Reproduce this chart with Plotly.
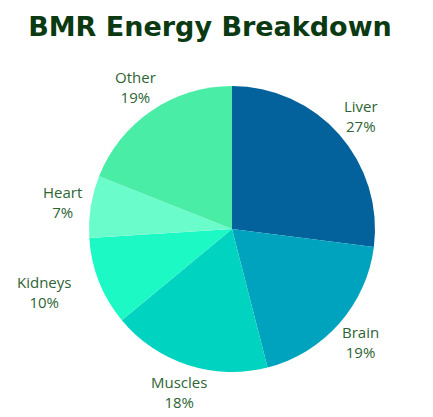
import math
import plotly.graph_objects as go

labels = ["Liver", "Brain", "Muscles", "Kidneys", "Heart", "Other"]
values = [27, 19, 18, 10, 7, 19]
colors = ["#03629C", "#00A3BE", "#00D3C0", "#1DF9C5", "#6BFCCC", "#4AEDA6"]
label_xshift = {"Kidneys": -28}

W, H = 433, 417
OFF = 8  # page body margin
cx, cy, R = 232 - OFF, 229 - OFF, 143
dom_x = [(cx - R) / W, (cx + R) / W]
dom_y = [1 - (cy + R) / H, 1 - (cy - R) / H]

fig = go.Figure(go.Pie(
    labels=labels, values=values, sort=False, direction="clockwise", rotation=0,
    marker=dict(colors=colors, line=dict(width=0)),
    textinfo="none", hoverinfo="label+percent", showlegend=False,
    domain=dict(x=dom_x, y=dom_y),
))

total = sum(values)
cum = 0
rl = 1.2
for lab, v in zip(labels, values):
    mid = (cum + v / 2) / total * 2 * math.pi
    cum += v
    px = cx + rl * R * math.sin(mid)
    py = cy - rl * R * math.cos(mid)
    fig.add_annotation(
        x=px / W, y=1 - py / H, xref="paper", yref="paper",
        xanchor="center", yanchor="middle",
        text=f"{lab}<br>{round(v / total * 100)}%", showarrow=False,
        xshift=label_xshift.get(lab, 0),
        font=dict(family="Open Sans", size=15, color="#2E6434"),
        align="center",
    )

fig.update_layout(
    width=W, height=H, margin=dict(l=0, r=0, t=0, b=0),
    paper_bgcolor="white", plot_bgcolor="white",
    title=dict(text="<b>BMR Energy Breakdown</b>", x=(210 - OFF) / W, xanchor="center",
               y=1 - (27 - OFF) / H, yanchor="middle",
               font=dict(family="DejaVu Sans", size=27, color="#0B3A12")),
)

fig.write_html("out.html")
